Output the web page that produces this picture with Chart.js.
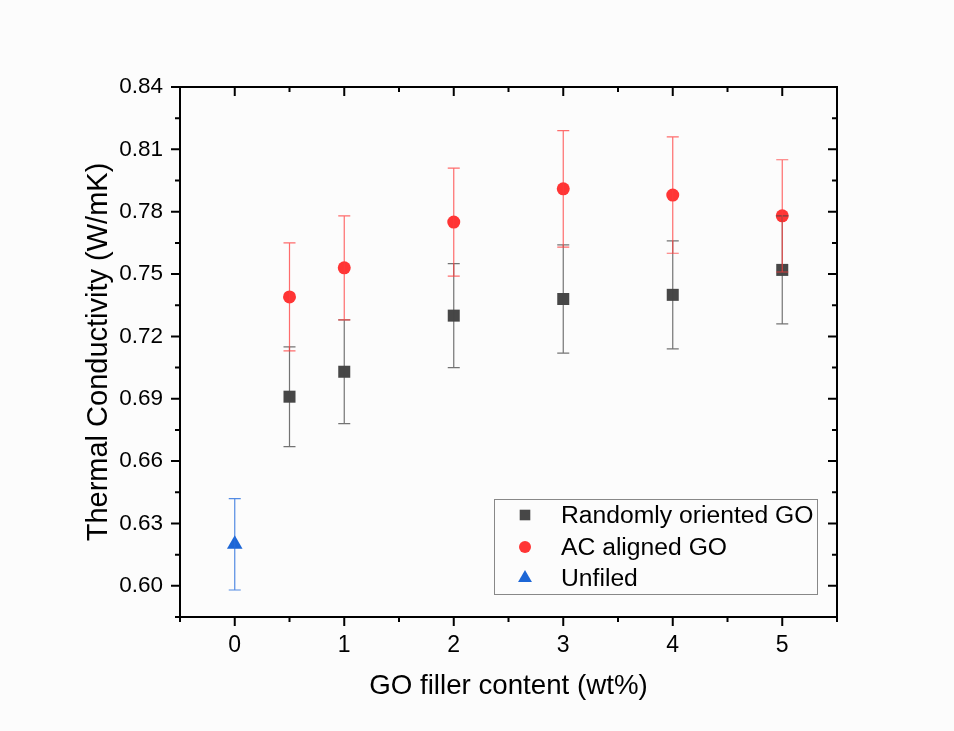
<!DOCTYPE html>
<html>
<head>
<meta charset="utf-8">
<script src="https://cdn.jsdelivr.net/npm/chart.js@4.4.0/dist/chart.umd.min.js"></script>
<style>
html, body { margin: 0; padding: 0; background: #fcfcfc; }
#wrap { width: 954px; height: 731px; }
</style>
</head>
<body>
<div id="wrap"><canvas id="myChart" width="954" height="731"></canvas></div>
<script>
// data
var goContent = [0.5, 1, 2, 3, 4, 5]
var randomMean = [0.691, 0.703, 0.730, 0.738, 0.740, 0.752]
var randomErr = [0.024, 0.025, 0.025, 0.026, 0.026, 0.026]
var alignedMean = [0.739, 0.753, 0.775, 0.791, 0.788, 0.778]
var alignedErr = [0.026, 0.025, 0.026, 0.028, 0.028, 0.027]
var unfiledX = [0]
var unfiledMean = [0.620]
var unfiledErr = [0.022]

var xTicks = [0, 1, 2, 3, 4, 5]
var yTicks = [0.60, 0.63, 0.66, 0.69, 0.72, 0.75, 0.78, 0.81, 0.84]

var fontName = "'Liberation Sans', Arial, sans-serif"

function toPoints(xs, ys, errs) {
	var pts = []
	for (var i = 0; i < xs.length; i++) pts.push({x: xs[i], y: ys[i], err: errs[i]})
	return pts
}

// error bars, drawn over all markers like the original
var errorBars = {
	id: 'errorBars',
	afterDatasetsDraw: function(chart) {
		var ctx = chart.ctx
		var xs = chart.scales.x, ys = chart.scales.y
		chart.data.datasets.forEach(function(ds) {
			ctx.save()
			ctx.strokeStyle = ds.errColor
			ctx.lineWidth = 1.2
			ds.data.forEach(function(p) {
				var px = xs.getPixelForValue(p.x)
				var top = ys.getPixelForValue(p.y + p.err)
				var bot = ys.getPixelForValue(p.y - p.err)
				ctx.beginPath()
				ctx.moveTo(px, top); ctx.lineTo(px, bot)
				ctx.moveTo(px - 6, top); ctx.lineTo(px + 6, top)
				ctx.moveTo(px - 6, bot); ctx.lineTo(px + 6, bot)
				ctx.stroke()
			})
			ctx.restore()
		})
	}
}

// frame, ticks, titles and legend box
var frame = {
	id: 'frame',
	beforeDraw: function(chart) {
		var ctx = chart.ctx
		ctx.save()
		ctx.fillStyle = '#fcfcfc'
		ctx.fillRect(0, 0, chart.width, chart.height)
		ctx.restore()
	},
	afterDraw: function(chart) {
		var ctx = chart.ctx
		var a = chart.chartArea
		var xs = chart.scales.x, ys = chart.scales.y
		ctx.save()
		ctx.strokeStyle = '#000'
		ctx.lineWidth = 2
		ctx.strokeRect(a.left, a.top, a.right - a.left, a.bottom - a.top)

		ctx.beginPath()
		// x ticks: majors and halves
		for (var v = -0.5; v <= 5.5; v += 0.5) {
			var px = xs.getPixelForValue(v)
			var len = (v % 1 === 0) ? 9 : 5
			ctx.moveTo(px, a.bottom); ctx.lineTo(px, a.bottom + len)
			ctx.moveTo(px, a.top); ctx.lineTo(px, a.top + len)
		}
		// y ticks
		for (var k = 0; k < yTicks.length; k++) {
			var py = ys.getPixelForValue(yTicks[k])
			ctx.moveTo(a.left, py); ctx.lineTo(a.left - 9, py)
			ctx.moveTo(a.right, py); ctx.lineTo(a.right - 9, py)
			var pm = ys.getPixelForValue(yTicks[k] - 0.015)
			ctx.moveTo(a.left, pm); ctx.lineTo(a.left - 5, pm)
			ctx.moveTo(a.right, pm); ctx.lineTo(a.right - 5, pm)
		}
		ctx.stroke()

		// axis titles
		ctx.fillStyle = '#000'
		ctx.textAlign = 'center'
		ctx.textBaseline = 'middle'
		ctx.font = '27.7px ' + fontName
		ctx.fillText('GO filler content (wt%)', (a.left + a.right) / 2, 686)
		ctx.font = '29px ' + fontName
		ctx.translate(99, 352)
		ctx.rotate(-Math.PI / 2)
		ctx.fillText('Thermal Conductivity (W/mK)', 0, 0)
		ctx.restore()

		// legend
		ctx.save()
		ctx.strokeStyle = '#888'
		ctx.lineWidth = 1
		ctx.strokeRect(494.5, 499.5, 323, 95)
		ctx.font = '24.7px ' + fontName
		ctx.fillStyle = '#000'
		ctx.textAlign = 'left'
		ctx.textBaseline = 'middle'
		var rowY = [515, 547, 578]
		chart.data.datasets.forEach(function(ds, i) {
			ctx.fillStyle = ds.backgroundColor
			ctx.strokeStyle = ds.backgroundColor
			Chart.helpers.drawPoint(ctx, {pointStyle: ds.pointStyle, radius: ds.legendRadius, rotation: 0, borderWidth: 0}, 525, rowY[i])
			ctx.fillStyle = '#000'
			ctx.fillText(ds.label, 561, rowY[i] + 1)
		})
		ctx.restore()
	}
}

var myChart = document.getElementById('myChart').getContext('2d')
var chart = new Chart(myChart, {
	type: 'scatter',
	data: {
		datasets: [
			{
				label: 'Randomly oriented GO',
				data: toPoints(goContent, randomMean, randomErr),
				pointStyle: 'rect',
				pointRadius: 8.5,
				legendRadius: 7.5,
				backgroundColor: '#474747',
				borderColor: '#474747',
				borderWidth: 0,
				errColor: 'rgba(70,70,70,0.75)'
			},
			{
				label: 'AC aligned GO',
				data: toPoints(goContent, alignedMean, alignedErr),
				pointStyle: 'circle',
				pointRadius: 6.5,
				legendRadius: 6,
				backgroundColor: '#ff3535',
				borderColor: '#ff3535',
				borderWidth: 0,
				errColor: 'rgba(255,60,60,0.75)'
			},
			{
				label: 'Unfiled',
				data: toPoints(unfiledX, unfiledMean, unfiledErr),
				pointStyle: 'triangle',
				pointRadius: 9,
				legendRadius: 8,
				backgroundColor: '#1c66d6',
				borderColor: '#1c66d6',
				borderWidth: 0,
				errColor: 'rgba(40,110,220,0.8)'
			}
		]
	},
	options: {
		responsive: false,
		animation: false,
		layout: {padding: {top: 87, right: 117, left: 0, bottom: 0}},
		plugins: {legend: {display: false}, tooltip: {enabled: false}},
		scales: {
			x: {
				type: 'linear',
				min: -0.5,
				max: 5.5,
				afterBuildTicks: function(s) { s.ticks = xTicks.map(function(v) { return {value: v} }) },
				afterFit: function(s) { s.height = 114 },
				grid: {display: false, drawTicks: false},
				border: {display: false},
				ticks: {padding: 15, color: '#000', font: {family: fontName, size: 23}}
			},
			y: {
				type: 'linear',
				min: 0.585,
				max: 0.84,
				afterBuildTicks: function(s) { s.ticks = yTicks.map(function(v) { return {value: v} }) },
				afterFit: function(s) { s.width = 180 },
				grid: {display: false, drawTicks: false},
				border: {display: false},
				ticks: {
					padding: 17,
					color: '#000',
					font: {family: fontName, size: 22.5},
					callback: function(v) { return v.toFixed(2) }
				}
			}
		}
	},
	plugins: [errorBars, frame]
})
</script>
</body>
</html>
